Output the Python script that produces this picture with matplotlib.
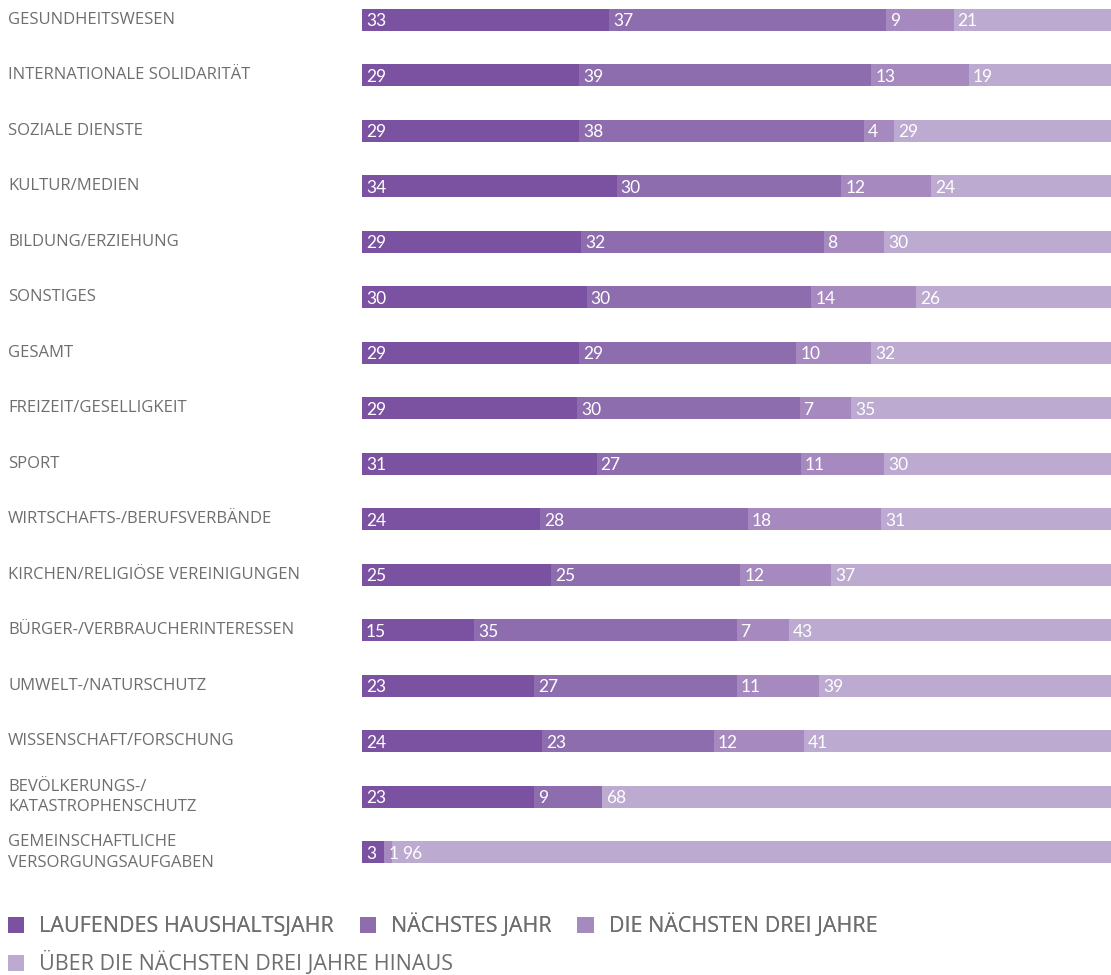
import numpy as np
import matplotlib
matplotlib.use("Agg")
import matplotlib.pyplot as plt
from matplotlib.patches import Patch
from matplotlib.transforms import blended_transform_factory

categories = [
    "GESUNDHEITSWESEN",
    "INTERNATIONALE SOLIDARITÄT",
    "SOZIALE DIENSTE",
    "KULTUR/MEDIEN",
    "BILDUNG/ERZIEHUNG",
    "SONSTIGES",
    "GESAMT",
    "FREIZEIT/GESELLIGKEIT",
    "SPORT",
    "WIRTSCHAFTS-/BERUFSVERBÄNDE",
    "KIRCHEN/RELIGIÖSE VEREINIGUNGEN",
    "BÜRGER-/VERBRAUCHERINTERESSEN",
    "UMWELT-/NATURSCHUTZ",
    "WISSENSCHAFT/FORSCHUNG",
    "BEVÖLKERUNGS-/\nKATASTROPHENSCHUTZ",
    "GEMEINSCHAFTLICHE\nVERSORGUNGSAUFGABEN",
]
laufend = [33, 29, 29, 34, 29, 30, 29, 29, 31, 24, 25, 15, 23, 24, 23, 3]
naechstes = [37, 39, 38, 30, 32, 30, 29, 30, 27, 28, 25, 35, 27, 23, 9, 0]
drei_jahre = [9, 13, 4, 12, 8, 14, 10, 7, 11, 18, 12, 7, 11, 12, 0, 1]
darueber = [21, 19, 29, 24, 30, 26, 32, 35, 30, 31, 37, 43, 39, 41, 68, 96]

series = [laufend, naechstes, drei_jahre, darueber]
series_names = ["LAUFENDES HAUSHALTSJAHR", "NÄCHSTES JAHR",
                "DIE NÄCHSTEN DREI JAHRE", "ÜBER DIE NÄCHSTEN DREI JAHRE HINAUS"]
colors = ["#7b52a1", "#8e6dae", "#a689bf", "#bcaad1"]
GRAY = "#6e6e6e"
FONT = ["Open Sans", "DejaVu Sans"]
NUM_FONT = ["Lato", "DejaVu Sans"]

W, H = 1111, 975
fig = plt.figure(figsize=(W / 100, H / 100), dpi=100)
ax = fig.add_axes([362 / W, 0, 1 - 362 / W, 1])

step = 55.5
top = 20
ax.set_ylim((H - top) / step, -top / step)
ax.set_xlim(0, 100)
ax.axis("off")

# rounded percentages -> stretch every row to a full 100 % bar
vals_arr = np.array(series, dtype=float)
shares = vals_arr / vals_arr.sum(axis=0) * 100

y = np.arange(len(categories))
left = np.zeros(len(categories))
for share, col in zip(shares, colors):
    ax.barh(y, share, left=left, height=22 / step, color=col, linewidth=0)
    left += share

# value labels at the start of each segment, nudged right if they would collide
renderer = fig.canvas.get_renderer()
px = 100 / (W - 362)  # data units per pixel
starts = np.vstack([np.zeros(len(y)), np.cumsum(shares, axis=0)[:-1]])
for yi in y:
    prev_end = -1e9
    for k in range(len(series)):
        v = series[k][yi]
        if v <= 0:
            continue
        x0 = max(starts[k, yi] + 4 * px, prev_end + 4 * px)
        t = ax.text(x0, yi + 0.02, str(v), color="white", fontsize=12.5,
                    family=NUM_FONT, va="center", ha="left")
        bb = t.get_window_extent(renderer)
        prev_end = x0 + bb.width * px

lab_tr = blended_transform_factory(fig.transFigure, ax.transData)
for yi, name in zip(y, categories):
    ax.text(8 / W, yi, name, transform=lab_tr, color=GRAY, fontsize=12,
            family=FONT, va="center", ha="left", linespacing=1.35)

# legend: three entries on the first row, the fourth on a second row
handles = [Patch(facecolor=c, edgecolor="none") for c in colors]
leg_kw = dict(loc="center left", frameon=False, handlelength=0.75,
              handleheight=0.75, handletextpad=0.7, columnspacing=1.2,
              borderaxespad=0, borderpad=0,
              prop={"family": FONT, "size": 15.5},
              labelcolor=GRAY)
leg1 = fig.legend(handles[:3], series_names[:3], ncol=3,
                  bbox_to_anchor=(8 / W, 1 - 925.5 / H), **leg_kw)
fig.add_artist(leg1)
fig.legend(handles[3:], series_names[3:], ncol=1,
           bbox_to_anchor=(8 / W, 1 - 963.5 / H), **leg_kw)

fig.savefig("out.png", dpi=100)
